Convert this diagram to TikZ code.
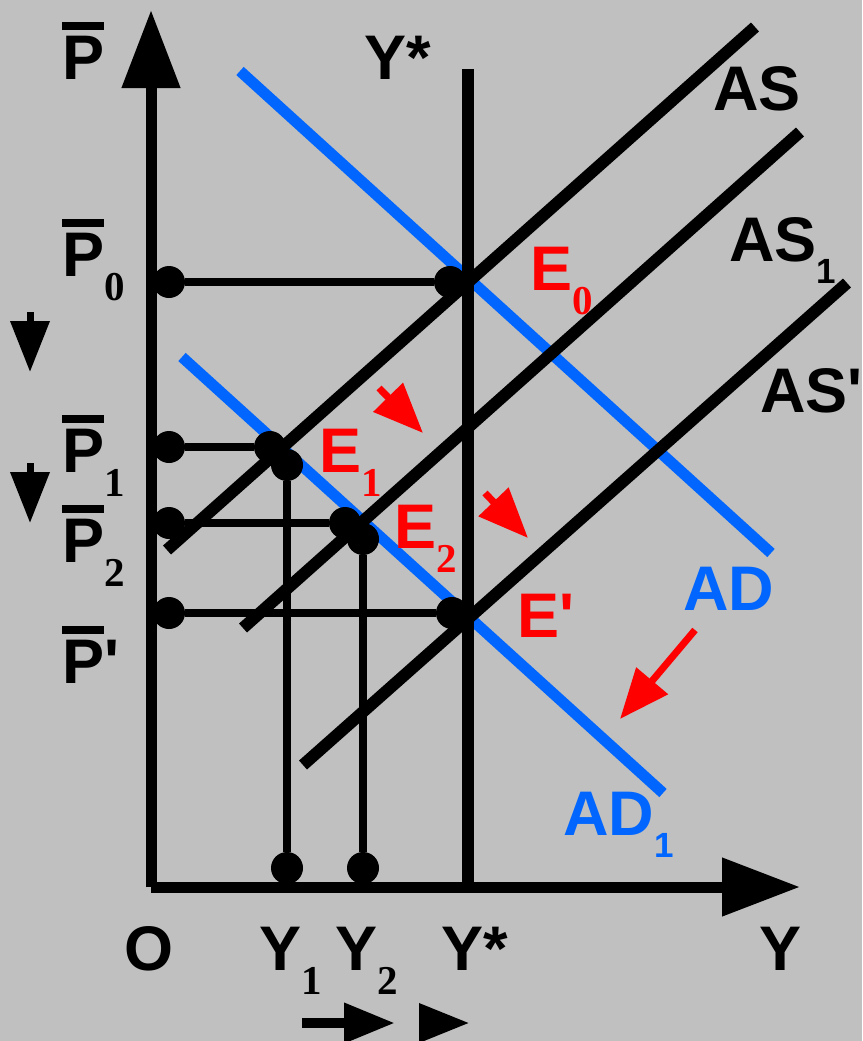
\documentclass[tikz,border=0pt]{standalone}
\usepackage{fontspec}
\newfontfamily\labelfont{Liberation Sans}
\newfontfamily\subserif{Liberation Serif}
\usetikzlibrary{arrows.meta}
\definecolor{bggray}{RGB}{192,192,192}
\definecolor{adblue}{RGB}{0,102,255}
\definecolor{shiftred}{RGB}{255,0,0}

% label fonts and subscripts
\newcommand{\biglbl}{\labelfont\bfseries\fontsize{63}{63}\selectfont}
\newcommand{\ssub}[1]{\raisebox{-24pt}{\subserif\bfseries\fontsize{41}{41}\selectfont #1}}
\newcommand{\asub}[1]{\raisebox{-22pt}{\fontsize{35}{35}\selectfont #1}}
\newcommand{\pbar}{\vbox{\hrule height 8pt \kern 6pt \hbox{P}}}

\begin{document}
\begin{tikzpicture}[x=1pt, y=-1pt,
    axis/.style={line width=11pt, -{Triangle[length=78pt, width=56pt]}},
    curve/.style={line width=12pt},
    adcurve/.style={line width=11pt, adblue},
    guide/.style={line width=8pt},
    dot/.style={circle, fill=black, inner sep=0pt, minimum size=32pt},
    lbl/.style={anchor=base west, inner sep=0pt, outer sep=0pt, font=\biglbl},
    shiftarrow/.style={line width=7pt, shiftred, -{Triangle[length=50pt, width=40pt]}},
    move/.style={line width=7pt, -{Triangle[length=51pt, width=38pt]}},
  ]
  \useasboundingbox (0,0) rectangle (862,1041);
  \fill[bggray] (0,0) rectangle (862,1041);

  % axes
  \coordinate (origin) at (151,887);
  \coordinate (ptop) at (151,10);
  \coordinate (yend) at (800,887);
  \draw[axis] (origin) -- (ptop);
  \draw[axis] (origin) -- (yend);

  % curves
  \coordinate (ad-hi) at (240,71);
  \coordinate (ad-lo) at (771,553);
  \coordinate (ad1-hi) at (182,357);
  \coordinate (ad1-lo) at (663,793);
  \coordinate (as-lo) at (167,550);
  \coordinate (as-hi) at (755,27);
  \coordinate (as1-lo) at (243,628);
  \coordinate (as1-hi) at (800,132);
  \coordinate (asq-lo) at (303,765);
  \coordinate (asq-hi) at (847,283);
  \coordinate (ystar-top) at (468,69);
  \coordinate (ystar-lo) at (468,887);
  \draw[adcurve] (ad-hi) -- (ad-lo);
  \draw[adcurve] (ad1-hi) -- (ad1-lo);
  \draw[curve] (as-lo) -- (as-hi);
  \draw[curve] (as1-lo) -- (as1-hi);
  \draw[curve] (asq-lo) -- (asq-hi);
  \draw[line width=12pt] (ystar-top) -- (ystar-lo);

  % equilibrium points
  \node[dot] (p0dot) at (169,282) {};
  \node[dot] (e0dot) at (450,282) {};
  \node[dot] (p1dot) at (169,447) {};
  \node[dot] (e1a) at (270,447) {};
  \node[dot] (e1b) at (287,465) {};
  \node[dot] (p2dot) at (169,523) {};
  \node[dot] (e2a) at (345,523) {};
  \node[dot] (e2b) at (363,539) {};
  \node[dot] (pqdot) at (169,613) {};
  \node[dot] (eqdot) at (452,613) {};
  \node[dot] (y1dot) at (287,868) {};
  \node[dot] (y2dot) at (363,868) {};
  \draw[guide] (p0dot) -- (e0dot);
  \draw[guide] (p1dot) -- (e1a);
  \draw[guide] (p2dot) -- (e2a);
  \draw[guide] (pqdot) -- (eqdot);
  \draw[guide] (e1b) -- (y1dot);
  \draw[guide] (e2b) -- (y2dot);

  % axis labels
  \node[lbl] (pax) at (62,79) {\pbar};
  \node[lbl] (p0) at (62,276) {\pbar\ssub{0}};
  \node[lbl] (p1) at (62,472) {\pbar\ssub{1}};
  \node[lbl] (p2) at (62,562) {\pbar\ssub{2}};
  \node[lbl] (pq) at (62,683) {\pbar'};
  \node[lbl] (ystartop) at (364,80) {Y*};
  \node[lbl] (o) at (124,970) {O};
  \node[lbl] (y1) at (259,970) {Y\ssub{1}};
  \node[lbl] (y2) at (335,970) {Y\ssub{2}};
  \node[lbl] (ystar) at (441,970) {Y*};
  \node[lbl] (yax) at (759,970) {Y};

  % curve labels
  \node[lbl] (as) at (713,110) {AS};
  \node[lbl] (as1) at (729,261) {AS\asub{1}};
  \node[lbl] (asq) at (760,412) {AS'};
  \node[lbl, text=adblue] (ad) at (683,610) {AD};
  \node[lbl, text=adblue] (ad1) at (563,835) {AD\asub{1}};
  \node[lbl, text=shiftred] (e0) at (530,290) {E\ssub{0}};
  \node[lbl, text=shiftred] (e1) at (319,472) {E\ssub{1}};
  \node[lbl, text=shiftred] (e2) at (394,548) {E\ssub{2}};
  \node[lbl, text=shiftred] (eq) at (517,637) {E'};

  % shift arrows
  \coordinate (s1a) at (379,388);
  \coordinate (s1b) at (423,433);
  \coordinate (s2a) at (485,493);
  \coordinate (s2b) at (528,538);
  \coordinate (s3a) at (695,630);
  \coordinate (s3b) at (620,719);
  \draw[shiftarrow] (s1a) -- (s1b);
  \draw[shiftarrow] (s2a) -- (s2b);
  \draw[shiftarrow] (s3a) -- (s3b);

  % price and output movement
  \coordinate (d1a) at (30,312);
  \coordinate (d1b) at (30,372);
  \coordinate (d2a) at (30,463);
  \coordinate (d2b) at (30,523);
  \coordinate (r1a) at (302,1023);
  \coordinate (r1b) at (395,1023);
  \coordinate (r2a) at (419,1023);
  \coordinate (r2b) at (469,1023);
  \draw[move] (d1a) -- (d1b);
  \draw[move] (d2a) -- (d2b);
  \draw[move, line width=10pt] (r1a) -- (r1b);
  \draw[move, -{Triangle[length=50pt, width=38pt]}] (r2a) -- (r2b);
\end{tikzpicture}
\end{document}
